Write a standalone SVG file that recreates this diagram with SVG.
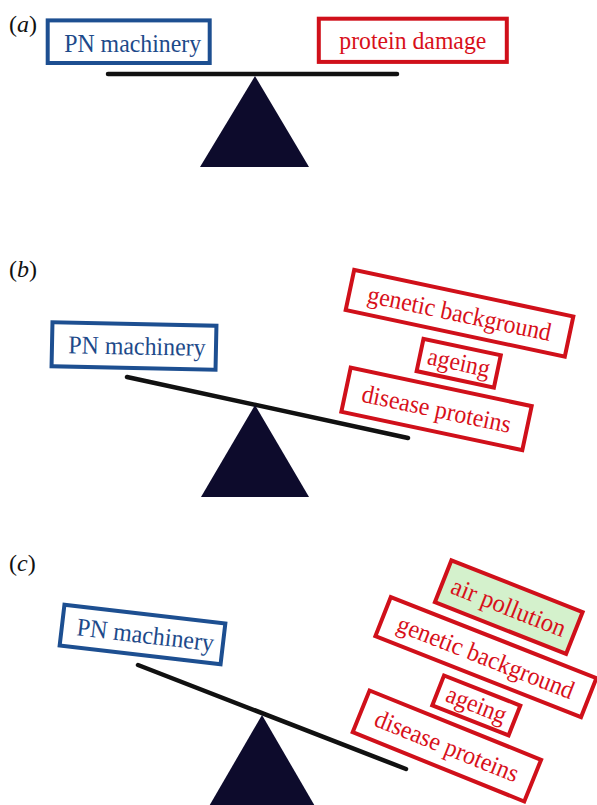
<svg xmlns="http://www.w3.org/2000/svg" width="597" height="805" viewBox="0 0 597 805">
<style>
text{font-family:"Liberation Serif","Times New Roman",serif;font-size:25.5px}
.lbl{fill:#111;font-size:24px}
.node text{text-anchor:middle}
.blue rect{fill:#fff;stroke:#1d4f91;stroke-width:4}
.blue text{fill:#1d4a8a}
.red rect{fill:#fff;stroke:#d0101a;stroke-width:4}
.red text{fill:#d8101a}
.red rect.green{fill:#d4f1cc}
.beam{stroke:#111;stroke-width:4.5;stroke-linecap:round}
.fulcrum{fill:#0d0b2c}
</style>
<rect width="597" height="805" fill="#fff"/>
<g id="labels">
<text class="lbl" x="9" y="32">(<tspan font-style="italic">a</tspan>)</text>
<text class="lbl" x="9" y="277">(<tspan font-style="italic">b</tspan>)</text>
<text class="lbl" x="9" y="571">(<tspan font-style="italic">c</tspan>)</text>
</g>
<g id="seesaws">
<line class="beam" x1="108" y1="74" x2="397" y2="74"/>
<polygon class="fulcrum" points="255,76 200,167 309,167"/>
<line class="beam" x1="127" y1="377" x2="408" y2="438"/>
<polygon class="fulcrum" points="255,405 201,497 309,497"/>
<line class="beam" x1="138" y1="665" x2="406" y2="769"/>
<polygon class="fulcrum" points="262,715 208,808 316,808"/>
</g>
<g id="connectors"></g>
<g id="a-pn" class="node blue" transform="translate(128.7,41.7)">
<rect x="-81" y="-21.3" width="162" height="42.6"/>
<text x="4" y="10" textLength="137" lengthAdjust="spacingAndGlyphs">PN machinery</text>
</g>
<g id="a-damage" class="node red" transform="translate(412.8,40.3)">
<rect x="-94" y="-21.6" width="188" height="43.2"/>
<text x="0" y="9" textLength="147" lengthAdjust="spacingAndGlyphs">protein damage</text>
</g>
<g id="b-pn" class="node blue" transform="translate(134,346) rotate(1.2)">
<rect x="-82" y="-22" width="164" height="44"/>
<text x="3" y="8.5" textLength="137" lengthAdjust="spacingAndGlyphs">PN machinery</text>
</g>
<g id="b-genetic" class="node red" transform="translate(459.5,313.3) rotate(12)">
<rect x="-112" y="-20.5" width="224" height="41"/>
<text x="0" y="8.5" textLength="187" lengthAdjust="spacingAndGlyphs">genetic background</text>
</g>
<g id="b-ageing" class="node red" transform="translate(458.7,363.2) rotate(12)">
<rect x="-39.5" y="-16.5" width="79" height="33"/>
<text x="0" y="7.5" textLength="63" lengthAdjust="spacingAndGlyphs">ageing</text>
</g>
<g id="b-disease" class="node red" transform="translate(436.5,408.9) rotate(12)">
<rect x="-92.5" y="-22.5" width="185" height="45"/>
<text x="0" y="8.5" textLength="152" lengthAdjust="spacingAndGlyphs">disease proteins</text>
</g>
<g id="c-pn" class="node blue" transform="translate(142.5,634.5) rotate(6.7)">
<rect x="-81" y="-20.5" width="162" height="41"/>
<text x="3" y="8.5" textLength="138" lengthAdjust="spacingAndGlyphs">PN machinery</text>
</g>
<g id="c-air" class="node red" transform="translate(508.75,607.1) rotate(21.5)">
<rect class="green" x="-70.5" y="-22.5" width="141" height="45"/>
<text x="0" y="8.5" textLength="121" lengthAdjust="spacingAndGlyphs">air pollution</text>
</g>
<g id="c-genetic" class="node red" transform="translate(485.9,657.1) rotate(21.5)">
<rect x="-110.5" y="-21" width="221" height="42"/>
<text x="0" y="8.5" textLength="188" lengthAdjust="spacingAndGlyphs">genetic background</text>
</g>
<g id="c-ageing" class="node red" transform="translate(476.3,705.4) rotate(21.5)">
<rect x="-41" y="-16" width="82" height="32"/>
<text x="0" y="7.5" textLength="63" lengthAdjust="spacingAndGlyphs">ageing</text>
</g>
<g id="c-disease" class="node red" transform="translate(446.9,746) rotate(22)">
<rect x="-92.5" y="-22.5" width="185" height="45"/>
<text x="0" y="8.5" textLength="153" lengthAdjust="spacingAndGlyphs">disease proteins</text>
</g>
</svg>
